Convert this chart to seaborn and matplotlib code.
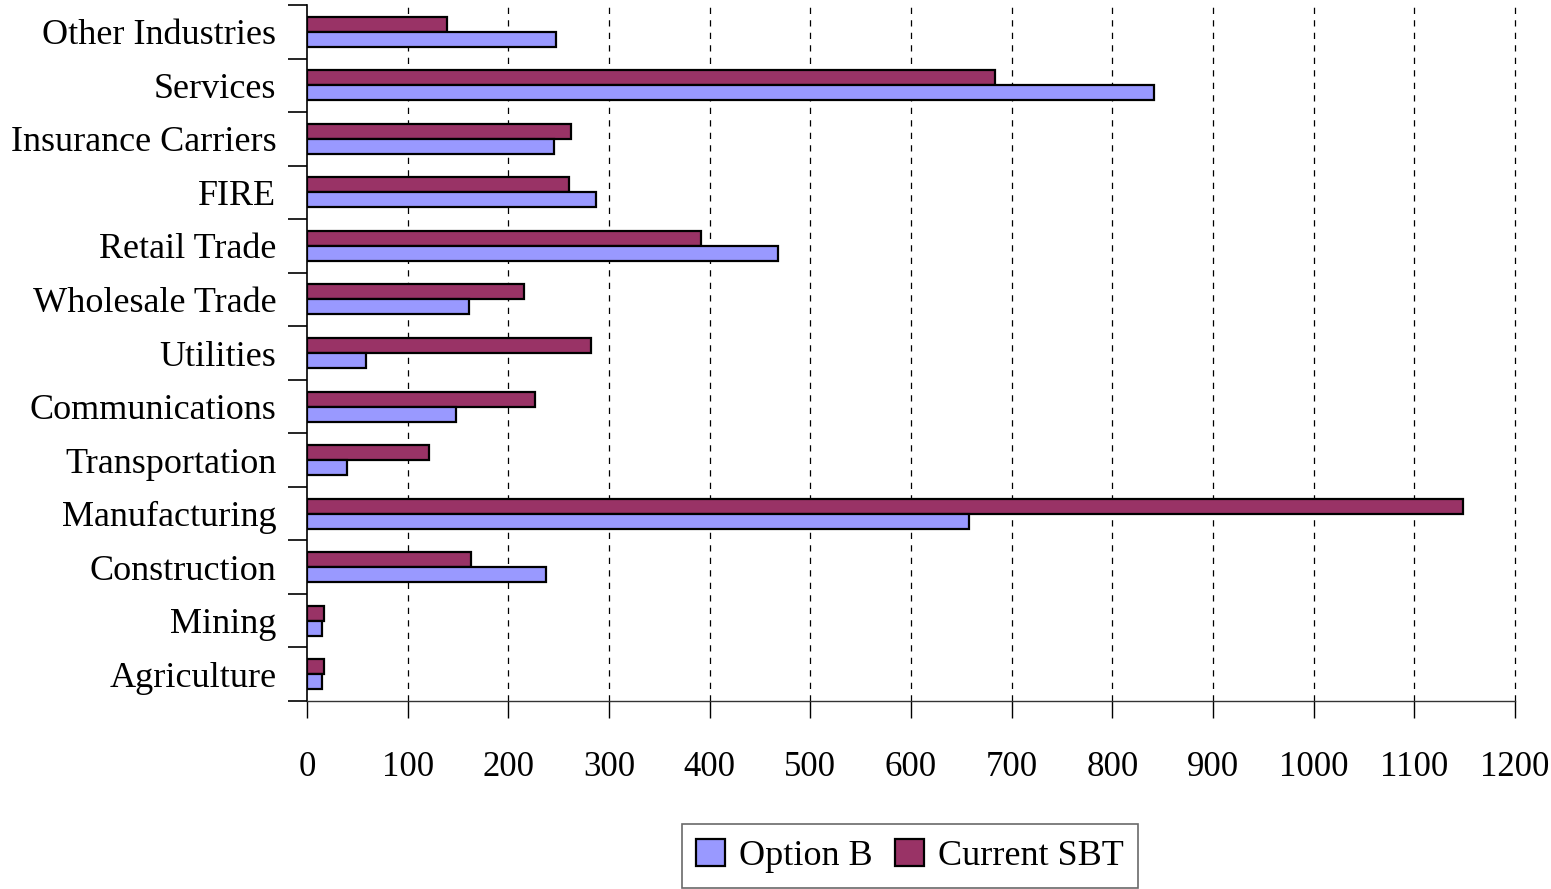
import matplotlib
matplotlib.use("Agg")
import matplotlib.pyplot as plt
from matplotlib.patches import Patch
import seaborn as sns
import pandas as pd

# Industry categories, listed top to bottom
industries = [
    "Other Industries", "Services", "Insurance Carriers", "FIRE",
    "Retail Trade", "Wholesale Trade", "Utilities", "Communications",
    "Transportation", "Manufacturing", "Construction", "Mining", "Agriculture",
]
option_b = [247, 841, 245, 287, 468, 161, 59, 148, 40, 658, 237, 15, 15]
current_sbt = [139, 683, 262, 260, 391, 216, 282, 226, 121, 1148, 163, 17, 17]
x_ticks = [0, 100, 200, 300, 400, 500, 600, 700, 800, 900, 1000, 1100, 1200]

series_names = ["Option B", "Current SBT"]
colors = {"Option B": "#9999FF", "Current SBT": "#993366"}

df = pd.DataFrame({
    "Industry": industries * 2,
    "Value": option_b + current_sbt,
    "Series": ["Option B"] * len(industries) + ["Current SBT"] * len(industries),
})

sns.set_theme(style="white")
plt.rcParams["font.family"] = ["Liberation Serif", "DejaVu Serif"]
plt.rcParams["text.color"] = "black"
plt.rcParams["xtick.color"] = "black"
plt.rcParams["ytick.color"] = "black"
plt.rcParams["xtick.labelcolor"] = "black"
plt.rcParams["ytick.labelcolor"] = "black"

fig = plt.figure(figsize=(15.51, 8.89), dpi=100)
ax = fig.add_axes([307 / 1551, 1 - 701 / 889, 1208 / 1551, 696 / 889])

sns.barplot(
    data=df, y="Industry", x="Value", hue="Series", orient="h",
    order=industries, hue_order=["Current SBT", "Option B"],
    palette=colors, width=0.56, gap=0, edgecolor="black", linewidth=1.6,
    saturation=1, legend=False, ax=ax,
)

ax.set_xlim(0, 1200)
ax.set_ylim(len(industries) - 0.5, -0.5)
ax.set_xticks(x_ticks)
ax.set_xticklabels([str(t) for t in x_ticks])
ax.set_xlabel("")
ax.set_ylabel("")

# Dashed vertical gridlines
for t in x_ticks[1:]:
    ax.axvline(t, color="black", lw=0.9, ls=(0, (5, 5)), zorder=0, clip_on=False)

# Category separators on the left axis
ax.set_yticks(range(len(industries)))
ax.set_yticklabels(industries)
ax.set_yticks([i - 0.5 for i in range(len(industries) + 1)], minor=True)
ax.tick_params(axis="y", which="both", left=True)
ax.tick_params(axis="x", which="both", bottom=True)
ax.tick_params(axis="y", which="major", length=0, pad=22, labelsize=26)
ax.tick_params(axis="y", which="minor", length=14, width=1.2, color="black", direction="out")
ax.tick_params(axis="x", which="major", length=12, width=1.0, color="black",
               direction="out", pad=24, labelsize=25)

for side in ["top", "right"]:
    ax.spines[side].set_visible(False)
ax.spines["left"].set_color("black")
ax.spines["left"].set_linewidth(1.2)
ax.spines["bottom"].set_color("#333333")
ax.spines["bottom"].set_linewidth(1.0)

handles = [Patch(facecolor=colors[s], edgecolor="black", linewidth=1.6, label=s)
           for s in series_names]
leg = fig.legend(
    handles=handles, loc="center", bbox_to_anchor=(910 / 1551, 1 - 856 / 889),
    ncol=2, fontsize=26, frameon=True, fancybox=False, edgecolor="#444444",
    handlelength=0.8, handleheight=0.8, handletextpad=0.4, columnspacing=0.6,
    borderpad=0.4, borderaxespad=0,
)
leg.get_frame().set_linewidth(1.2)

fig.savefig("out.png", dpi=100, facecolor="white")
